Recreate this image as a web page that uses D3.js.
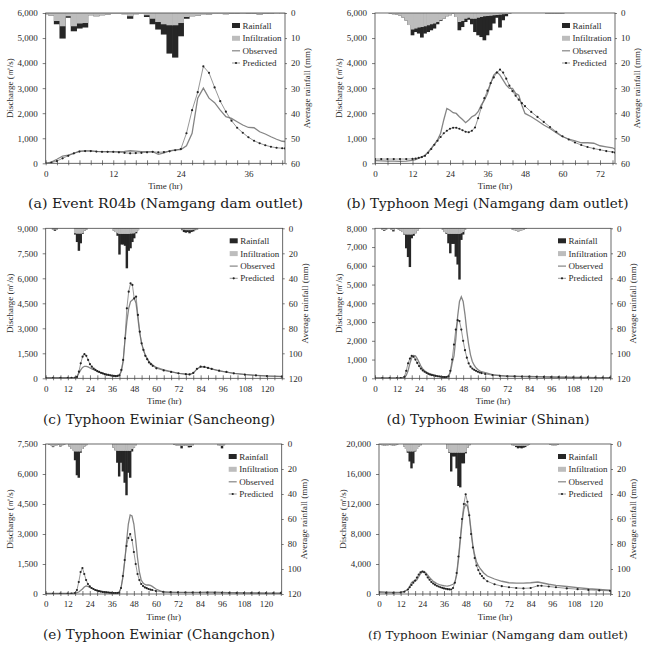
<!DOCTYPE html>
<html>
<head>
<meta charset="utf-8">
<script src="https://cdn.jsdelivr.net/npm/d3@7"></script>
<style>
    body { margin: 0; background: #fff; }
    svg { display: block; }
    .small { font-family: "Liberation Serif", "Times New Roman", serif; font-size: 9px; fill: #2a2a2a; }
    .caption { font-family: "DejaVu Serif", serif; fill: #1a1a1a; }
</style>
</head>
<body>
<div id="chart"></div>
<script>

// ---- (a) Event R04b (Namgang dam outlet)
const timeA = [0,1,2,3,4,5,6,7,8,9,10,11,12,13,14,15,16,17,18,19,20,21,22,23,24,25,26,27,28,29,30,31,32,33,34,35,36,37,38,39,40,41,42,42.5];
const obsA = [0,50,160,290,330,400,490,500,500,480, 470,465,460,470,480,500,490,470,470,460, 360,420,500,540,550,700,1200,2600,3000,2600, 2420,2120,1860,1790,1660,1530,1430,1420,1260,1170, 1060,960,880,870];
const predA = [0,30,90,200,300,400,470,490,490,470, 460,460,460,440,420,400,410,420,440,460, 440,450,480,520,570,1200,2120,2840,3870,3610, 3030,2480,2060,1700,1420,1220,1040,900,800,720, 660,620,600,595];
const rainHrA = [0,1,2,3,4,5,6,7,8,9,10,11,12,13,14,15,16,17,18,19,20,21,22,23,24,25,26,27,28,29,30,31,32,33,34,35,36,37,38,39,40,41,42];
const rainA = [0.5,1.0,4.5,10.2,1.9,7.3,6.2,5.8,0.9,1.3,0.9,0.6,0.4,0.4,0.5,2.3,0.5,0.4,1.6,4.5,6.6,8.6,16.2,17.8,9.3,2.3,1.3,1.1,0.8,0.6,0.4,0.4,0.5,0.3,0.3,0.4,0.3,0.3,0.6,0.2,0.2,0.1,0.1];
const infilA = [0.5,1.0,3.2,5.3,1.3,5.3,4.2,4.0,0.9,1.3,0.9,0.6,0.4,0.4,0.5,1.3,0.5,0.4,0.9,2.3,3.6,4.5,4.9,4.9,4.0,1.6,1.3,1.1,0.8,0.6,0.4,0.4,0.5,0.3,0.3,0.4,0.3,0.3,0.6,0.2,0.2,0.1,0.1];

// ---- (b) Typhoon Megi (Namgang dam outlet)
const timeB = [0,2,4,6,8,10,12, 13,14,15,16,17,18,19,20,21,22,23,24,25,26,27,28,29,30,31,32,33,34,35,36,37,38,39,40,41,42,43,44,45,46,47,48, 50,52,54,56,58,60,62,64,66,68,70,72,74,76,76.8];
const obsB = [110,100,90,90,80,90,120, 150,210,260,320,450,600,760,930,1200,1730, 2190,2120,2020,1990,1860,1750,1620,1730,1860,1920, 2060,2320,2520,2790,3190,3520,3650,3520,3320,3120, 2990,2990,2790,2720,2320,1990, 1860,1700,1530,1390,1220,1060,970,900,820,820,800,700,660,620,560];
const predB = [170,170,170,170,170,170,175, 190,220,250,300,420,570,740,900,1050,1200, 1300,1380,1420,1420,1380,1320,1260,1240,1300,1430, 1800,2220,2600,2900,3200,3430,3620,3740,3620,3380, 3100,2880,2700,2540,2400,2280, 2050,1850,1650,1450,1260,1080,950,830,730,650,590,540,490,450,430];
const rainHrB = [5,6,7,8,9,10,11,12,13,14,15,16,17,18,19,20,21,22,23,24,25,26,27,28,29,30,31,32,33,34,35,36,37,38,39,40,41,42,43,55,56,57,58,59,60];
const rainB = [0.3,0.5,0.7,1.0,1.8,3.0,4.8, 8.9,7.6,8.2,9.8,8.2,7.6,6.9,6.2,4.5,3.2, 2.3,1.3,0.9,0.3,1.6, 6.9,5.6,3.6,2.7,4.5,7.6,8.9,9.6,10.9,8.9,6.9,4.2,1.9,5.8,2.9,1.3,0.3, 0.2,0.3,0.3,0.3,0.2,0.2];
const infilB = [0.3,0.5,0.7,1.0,1.8,3.0,4.8, 6.6,6.2,5.8,5.6,5.3,4.9,4.5,4.2,3.6,2.9, 2.3,1.3,0.9,0.3,1.6, 3.6,3.2,2.3,1.9,2.3,2.3,1.9,1.6,1.3,1.2,1.1,0.9,0.8,0.7,0.5,0.4,0.3, 0.2,0.3,0.3,0.3,0.2,0.2];

// ---- (c) Typhoon Ewiniar (Sancheong)
const timeC = [0,4,8,12,14,16, 17,18,19,20,21,22,23,24,25,26,27,28,29,30,31,32,33,34,35,36,37,38,39,40,41,42,43,44,45,46,47,48,49,50,51,52,53,54,55,56,57,58, 60,64,68,72,76,78,80,82,84,86,88,90,94,98,102,108,114,120,128];
const obsC = [40,40,40,40,40,50, 100,300,500,650,720,720,680,620,570,520, 470,420,370,330,290,260,230,200,180,160, 150,140,160,200,400,1000,2300,3400,4200,4600, 4700,4800,4500,3600,2700,2100,1700,1400,1200,1000, 900,800, 650,500,400,300,250,230,300,550,700,680,620,560,450,370,300,230,180,140,110];
const predC = [30,30,30,30,30,40, 80,400,900,1300,1450,1350,1100,850,700,580, 500,430,380,330,290,250,220,200,180,160, 140,130,140,180,500,1100,2400,4200,5200,5700, 5600,4800,4900,3800,2800,2100,1700,1350,1150,950, 850,750, 600,470,380,300,250,230,320,570,700,680,620,560,460,380,300,220,170,130,100];
const rainHrC = [4,5,6, 16,17,18,19,20,21,22, 37,38,39,40,41,42,43,44,45,46,47,48,49,50, 74,75,76,77,78,79,80,81,82];
const rainC = [1,2,1, 5,11,18,12,4.5,2,1, 2,3,6,21,13,13,14,32,18,16,11,8,4,1.5, 1.5,3,3.5,3,4,3,2.5,1.5,1];
const infilC = [1,1,1, 4,4.3,4.3,4.3,4,2,1, 2,3,4,4.5,4.5,4.5,4.5,4.5,4.5,4.3,4.2,4,3,1.5, 1,1.2,1.5,1.5,1.5,1.5,1.2,1,1];

// ---- (d) Typhoon Ewiniar (Shinan)
const timeD = [0,4,8,12,14,16, 17,18,19,20,21,22,23,24,25,26,27,28,29,30,31,32,33,34,35,36,37,38,39,40,41,42,43,44,45,46,47,48,49,50,51,52,53,54,55,56,57,58, 60,64,68,72,76,80,84,88,92,96,100,104,108,112,116,120,124,128];
const obsD = [20,20,20,20,20,50, 150,400,800,1100,1220,1200,1050,850,650,500, 400,330,280,240,210,180,150,130,115,100, 90,80,90,120,300,800,1200,2100,3300,4100, 4350,4100,3400,2500,1800,1250,900,700,560,470, 400,350, 300,200,150,120,110,100,95,85,80,70,60,55,50,50,45,40,40,40];
const predD = [10,10,10,10,10,80, 400,800,1050,1200,1150,1000,820,650,520,420, 350,290,240,200,170,150,130,110,95,80, 70,60,70,100,400,1000,1800,2600,3100,3050, 2600,2000,1500,1100,800,620,520,450,400,350, 310,280, 230,170,130,110,100,90,85,80,75,65,60,55,50,45,45,40,40,40];
const rainHrD = [4,5,6,9,10, 12,13,14,15,16,17,18,19,20,21,22,23,24, 37,38,39,40,41,42,43,44,45,46,47,48,49, 75,76,77,78,79,80,81,82];
const rainD = [1,2,1,1,2.5, 0.5,1,2,3,5,16,23,31,8,6,4,2,0.5, 1,3,4.5,12,20,12.5,12.5,22.7,29,41,9.3,5,1, 1,1.5,2,2.5,2,1.5,1,0.5];
const infilD = [1,1.5,1,1,1.5, 0.5,1,2,3,4.5,5,5,5,5,4.5,4,2,0.5, 1,3,4,4.5,4.5,4.5,4.5,4.5,4.5,4.5,4,3,1, 1,1.5,2,2.5,2,1.5,1,0.5];

// ---- (e) Typhoon Ewiniar (Changchon)
const timeE = [0,4,8,12,14,16, 17,18,19,20,21,22,23,24,25,26,27,28,29,30,31,32,33,34,35,36,37,38,39,40,41,42,43,44,45,46,47,48,49,50,51,52,53,54,55,56,57,58, 60,64,68,72,76,80,84,88,92,96,100,104,108,112,116,120,124,128];
const obsE = [30,30,30,30,30,50, 70,100,170,250,350,400,380,330,290,250, 210,180,160,140,125,110,100,90,80,70, 65,60,70,100,300,800,1600,2600,3500,3950, 3900,3500,2700,1800,1100,700,550,480,450,450, 430,380, 250,100,85,80,80,80,85,90,90,80,70,65,60,55,50,45,40,40];
const predE = [20,20,20,20,20,50, 200,600,1100,1300,1000,700,500,380,300,250, 200,170,140,120,100,90,80,70,60,55, 50,45,50,60,300,900,1700,2400,2800,3000, 2700,2100,1500,1000,700,500,400,330,290,250, 220,200, 150,110,90,80,75,70,70,65,60,58,55,50,50,45,45,40,40,40];
const rainHrE = [2,3,4,5,6,7,8,9,10, 13,14,15,16,17,18,19,20,21,22, 37,38,39,40,41,42,43,44,45,46,47,48,49, 70,71,72,73,74,75,76,77,78,79,80, 94,95,96,97];
const rainE = [0.5,1,2.5,1.5,1,0.5,2,1,0.5, 2,4,5,13,25,27,7,4,2,1, 3,5,15,26,15,22,31,41,23,27,6,3,1, 0.5,1,1.5,1,3.5,1.5,1,1.5,2.7,2.5,1, 1,1.5,3.5,1];
const infilE = [0.5,1,2,1.5,1,0.5,1.5,1,0.5, 2,4,5,6,6,6,6,4,2,1, 3,5,5.5,5.5,5.5,5.5,5.5,5.5,5.5,5.5,4,3,1, 0.5,1,1.5,1,1.5,1.5,1,1.5,1.5,1.5,1, 1,1.5,1.5,1];

// ---- (f) Typhoon Ewiniar (Namgang dam outlet)
const timeF = [0,4,8,12,14,16, 17,18,19,20,21,22,23,24,25,26,27,28,29,30,31,32,33,34,35,36,37,38,39,40,41,42,43,44,45,46,47,48,49,50,51,52,53,54,55,56,57,58, 60,64,68,72,76,80,84,88,90,94,98,104,110,116,122,128];
const obsF = [300,250,220,250,350,600, 1000,1500,1700,1700,1900,2300,2700,3000,3000,2800, 2500,2200,1950,1700,1550,1400,1300,1200,1150,1100, 1070,1050,1100,1200,1300,1500,2500,4500,7000,9500, 11300,12000,11700,10500,8500,6500,5200,4300,3800,3400, 3100,2800, 2400,2000,1700,1500,1450,1450,1500,1600,1500,1300,1150,1000,850,700,600,500];
const predF = [200,150,150,200,300,600, 900,1200,1500,1800,2200,2600,2900,3000,2900,2600, 2200,1900,1600,1400,1250,1100,1000,900,820,750, 700,650,620,600,800,1500,2800,5000,7500,10000, 12000,13300,12300,10500,8000,6200,4800,3800,3200,2700, 2400,2100, 1700,1300,1050,900,800,750,800,1100,1100,1000,900,750,650,550,480,420];
const rainHrF = [1,2,3,4,5,6,7,8,9,10, 14,15,16,17,18,19,20,21,22,23, 38,39,40,41,42,43,44,45,46,47,48,49,50, 74,75,76,77,78,79,80,81,82,83, 95,96,97,98,99];
const rainF = [0.5,1,1.5,1,1,0.5,1,1.5,1,0.5, 2,4,7,14,19.5,15.5,6,4,2,1, 4,7,22,10,10,19.5,33.6,34.7,15.5,15.5,7.5,3,1, 1,1.5,2.5,3.5,3,3.5,3,2.5,1.5,0.5, 0.5,1,1,1,0.5];
const infilF = [0.5,1,1.5,1,1,0.5,1,1.5,1,0.5, 2,4,6,6,6,6,5.5,4,2,1, 4,6.5,7,7,7,7,7,7,7,7,6.5,3,1, 1,1.5,1.5,1.5,1.5,1.5,1.5,1.5,1.5,0.5, 0.5,1,1,1,0.5];

const legendLabels = ["Rainfall", "Infiltration", "Observed", "Predicted"];


class HydroPanel {

    constructor(svg, cfg) {
        this.svg = svg;
        this.cfg = cfg;

        this.initVis();
    }

    initVis() {
        let vis = this;
        let c = vis.cfg;

        vis.width = c.right - c.left;
        vis.height = c.bottom - c.top;

        vis.g = vis.svg.append("g")
            .attr("transform", `translate(${c.left}, ${c.top})`);

        // scales: discharge up from bottom, rainfall down from top
        vis.x = d3.scaleLinear().domain([0, c.xMax]).range([0, vis.width]);
        vis.y = d3.scaleLinear().domain([0, c.qMax]).range([vis.height, 0]);
        vis.yRain = d3.scaleLinear().domain([0, c.pMax]).range([0, vis.height]);

        vis.g.append("clipPath")
            .attr("id", "clip-" + c.id)
            .append("rect")
            .attr("width", vis.width)
            .attr("height", vis.height);

        vis.plot = vis.g.append("g")
            .attr("clip-path", `url(#clip-${c.id})`);

        vis.drawRain();
        vis.drawFlow();
        vis.drawAxes();
        vis.drawLegend();
    }

    drawRain() {
        let vis = this;
        let c = vis.cfg;

        let bars = c.rainHr.map((h, i) => ({h: h, rain: c.rain[i], infil: c.infil[i]}));
        // bars overlap a little so no white seams show between hours
        let bx = d => vis.x(d.h - 0.5) - 0.3;
        let bw = d => vis.x(d.h + 0.5) - vis.x(d.h - 0.5) + 0.6;

        // total rainfall (black), infiltration laid over it (grey)
        vis.plot.selectAll(".rain")
            .data(bars)
            .enter().append("rect")
            .attr("class", "rain")
            .attr("x", bx)
            .attr("width", bw)
            .attr("y", 0)
            .attr("height", d => vis.yRain(d.rain))
            .attr("fill", "#262626");

        vis.plot.selectAll(".infil")
            .data(bars)
            .enter().append("rect")
            .attr("class", "infil")
            .attr("x", bx)
            .attr("width", bw)
            .attr("y", 0)
            .attr("height", d => vis.yRain(d.infil))
            .attr("fill", "#bdbdbd");
    }

    drawFlow() {
        let vis = this;
        let c = vis.cfg;

        let obs = c.time.map((t, i) => ({t: t, q: c.obs[i]}));
        let pred = c.time.map((t, i) => ({t: t, q: c.pred[i]}));

        let line = d3.line()
            .x(d => vis.x(d.t))
            .y(d => vis.y(d.q));

        vis.plot.append("path")
            .datum(obs)
            .attr("d", line)
            .attr("fill", "none")
            .attr("stroke", "#858585")
            .attr("stroke-width", 1.3);

        vis.plot.append("path")
            .datum(pred)
            .attr("d", line)
            .attr("fill", "none")
            .attr("stroke", "#6a6a6a")
            .attr("stroke-width", 0.7);

        vis.plot.selectAll(".pred-dot")
            .data(pred)
            .enter().append("circle")
            .attr("class", "pred-dot")
            .attr("cx", d => vis.x(d.t))
            .attr("cy", d => vis.y(d.q))
            .attr("r", 1.1)
            .attr("fill", "#222");
    }

    drawAxes() {
        let vis = this;
        let c = vis.cfg;

        let leftAxis = d3.axisLeft(vis.y)
            .tickValues(d3.range(0, c.qMax + 1, c.qStep))
            .tickFormat(d3.format(","))
            .tickSizeInner(3)
            .tickSizeOuter(0)
            .tickPadding(5);

        let rightAxis = d3.axisRight(vis.yRain)
            .tickValues(d3.range(0, c.pMax + 1, c.pStep))
            .tickSizeInner(2)
            .tickSizeOuter(0)
            .tickPadding(4);

        let bottomAxis = d3.axisBottom(vis.x)
            .tickValues(d3.range(0, c.xMax, c.xTick))
            .tickFormat(d => d % 12 === 0 ? d : "")
            .tickSizeInner(2)
            .tickSizeOuter(0)
            .tickPadding(5);

        let gl = vis.g.append("g").call(leftAxis);
        let gr = vis.g.append("g").attr("transform", `translate(${vis.width}, 0)`).call(rightAxis);
        let gb = vis.g.append("g").attr("transform", `translate(0, ${vis.height})`).call(bottomAxis);

        gb.selectAll(".tick line").attr("y1", -3);

        [gl, gr, gb].forEach(ax => {
            ax.select(".domain").remove();
            ax.attr("font-family", null).attr("font-size", null);
            ax.selectAll(".tick line").attr("stroke", "#444").attr("stroke-width", 0.7);
            ax.selectAll(".tick text").attr("class", "small").attr("fill", null);
        });

        // plot frame
        vis.g.append("rect")
            .attr("width", vis.width)
            .attr("height", vis.height)
            .attr("fill", "none")
            .attr("stroke", "#444")
            .attr("stroke-width", 0.8);

        vis.g.append("text")
            .attr("class", "small")
            .attr("x", vis.width / 2)
            .attr("y", vis.height + 26)
            .attr("text-anchor", "middle")
            .text("Time (hr)");

        vis.g.append("text")
            .attr("class", "small")
            .attr("transform", `translate(-33, ${vis.height / 2}) rotate(-90)`)
            .attr("text-anchor", "middle")
            .text("Discharge (㎥/s)");

        vis.g.append("text")
            .attr("class", "small")
            .attr("transform", `translate(${vis.width + 25}, ${vis.height / 2}) rotate(-90)`)
            .attr("text-anchor", "middle")
            .text("Average rainfall (mm)");

        // caption below the panel
        vis.svg.append("text")
            .attr("class", "caption")
            .attr("x", c.capX)
            .attr("y", c.capY)
            .attr("text-anchor", "middle")
            .style("font-size", c.capSize + "px")
            .attr("textLength", c.capW)
            .attr("lengthAdjust", "spacingAndGlyphs")
            .text(c.caption);
    }

    drawLegend() {
        let vis = this;

        let lg = vis.g.append("g")
            .attr("transform", `translate(${vis.width - 53}, 0)`);

        let rowY = [12.5, 25.3, 37.8, 50];

        lg.append("rect").attr("x", 0).attr("y", rowY[0] - 2.5).attr("width", 8).attr("height", 5).attr("fill", "#262626");
        lg.append("rect").attr("x", 0).attr("y", rowY[1] - 2.5).attr("width", 8).attr("height", 5).attr("fill", "#bdbdbd");
        lg.append("line").attr("x1", 0).attr("x2", 8).attr("y1", rowY[2]).attr("y2", rowY[2])
            .attr("stroke", "#858585").attr("stroke-width", 1.2);
        lg.append("line").attr("x1", 0).attr("x2", 8).attr("y1", rowY[3]).attr("y2", rowY[3])
            .attr("stroke", "#6a6a6a").attr("stroke-width", 0.7);
        lg.append("circle").attr("cx", 4).attr("cy", rowY[3]).attr("r", 1.1).attr("fill", "#222");

        lg.selectAll(".leg-text")
            .data(legendLabels)
            .enter().append("text")
            .attr("class", "small leg-text")
            .attr("x", 10.5)
            .attr("y", (d, i) => rowY[i] + 3)
            .text(d => d);
    }
}


const svg = d3.select("#chart").append("svg")
    .attr("width", 649)
    .attr("height", 645);

const panels = [
    {id: "a", time: timeA, obs: obsA, pred: predA, rainHr: rainHrA, rain: rainA, infil: infilA,
        left: 45.7, right: 285, top: 13, bottom: 163.3, xMax: 42.5, xTick: 2, qMax: 6000, qStep: 1000, pMax: 60, pStep: 10,
        caption: "(a) Event R04b (Namgang dam outlet)", capX: 165.5, capY: 208, capW: 275, capSize: 13.5},
    {id: "b", time: timeB, obs: obsB, pred: predB, rainHr: rainHrB, rain: rainB, infil: infilB,
        left: 375, right: 615, top: 13, bottom: 163.3, xMax: 76.8, xTick: 4, qMax: 6000, qStep: 1000, pMax: 60, pStep: 10,
        caption: "(b) Typhoon Megi (Namgang dam outlet)", capX: 487.5, capY: 208, capW: 282, capSize: 13},
    {id: "c", time: timeC, obs: obsC, pred: predC, rainHr: rainHrC, rain: rainC, infil: infilC,
        left: 45.7, right: 282.7, top: 228.3, bottom: 378.3, xMax: 128.5, xTick: 4, qMax: 9000, qStep: 1500, pMax: 120, pStep: 20,
        caption: "(c) Typhoon Ewiniar (Sancheong)", capX: 159, capY: 424, capW: 232, capSize: 13.5},
    {id: "d", time: timeD, obs: obsD, pred: predD, rainHr: rainHrD, rain: rainD, infil: infilD,
        left: 375, right: 611, top: 228.3, bottom: 378.3, xMax: 128.5, xTick: 4, qMax: 8000, qStep: 1000, pMax: 120, pStep: 20,
        caption: "(d) Typhoon Ewiniar (Shinan)", capX: 488, capY: 424, capW: 203, capSize: 13.5},
    {id: "e", time: timeE, obs: obsE, pred: predE, rainHr: rainHrE, rain: rainE, infil: infilE,
        left: 45.7, right: 281.7, top: 444, bottom: 594, xMax: 128.5, xTick: 4, qMax: 7500, qStep: 1500, pMax: 120, pStep: 20,
        caption: "(e) Typhoon Ewiniar (Changchon)", capX: 159, capY: 638.5, capW: 232, capSize: 13.5},
    {id: "f", time: timeF, obs: obsF, pred: predF, rainHr: rainHrF, rain: rainF, infil: infilF,
        left: 379, right: 611, top: 444, bottom: 594, xMax: 128.5, xTick: 4, qMax: 20000, qStep: 4000, pMax: 120, pStep: 20,
        caption: "(f) Typhoon Ewiniar (Namgang dam outlet)", capX: 498, capY: 638.5, capW: 260, capSize: 11.8}
];

panels.forEach(p => new HydroPanel(svg, p));

</script>
</body>
</html>
